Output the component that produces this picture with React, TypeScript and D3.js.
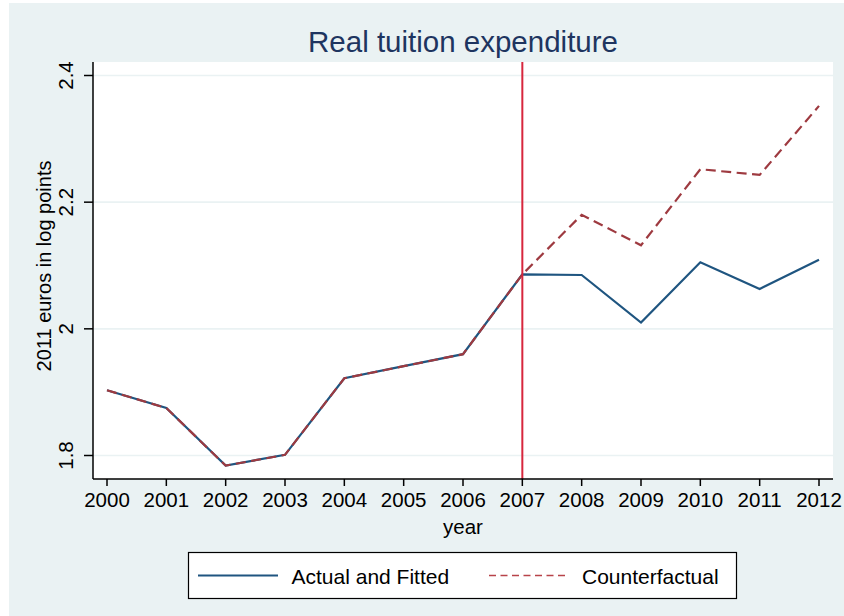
import React from "react"
import * as d3 from "d3"

// chart data
const years = [2000, 2001, 2002, 2003, 2004, 2005, 2006, 2007, 2008, 2009, 2010, 2011, 2012]
const actualFitted = [1.903, 1.875, 1.784, 1.801, 1.922, 1.941, 1.960, 2.086, 2.085, 2.010, 2.105, 2.063, 2.109]
const counterfactual = [1.903, 1.875, 1.784, 1.801, 1.922, 1.941, 1.960, 2.086, 2.180, 2.132, 2.252, 2.243, 2.352]
const yTicks = [1.8, 2, 2.2, 2.4]
const treatYear = 2007

const title = "Real tuition expenditure"
const xLabel = "year"
const yLabel = "2011 euros in log points"
const legendLabels = ["Actual and Fitted", "Counterfactual"]

const W = 844
const H = 616
const plot = { left: 93, right: 833, top: 62, bottom: 479 }

const BG = "#eaf2f3"
const BLUE = "#1f5580"
const MAROON = "#9e3a40"
const RED = "#d7263d"
const FONT = "'Liberation Sans', Arial, Helvetica, sans-serif"

const App: React.FC = () => {
  const x = d3.scaleLinear().domain([2000, 2012]).range([107, 819])
  const y = d3.scaleLinear().domain([1.8, 2.4]).range([455.5, 75.5])

  const line = d3.line<number>()
    .x((_, i) => x(years[i]))
    .y(d => y(d))

  return (
    <svg width={W} height={H} style={{ position: "absolute", left: 0, top: 0 }} fontFamily={FONT}>
      <rect x={0} y={0} width={W} height={H} fill="#fff" />
      <rect x={9} y={3} width={W - 9} height={H - 3} fill={BG} />

      {/* plot area */}
      <rect x={plot.left} y={plot.top} width={plot.right - plot.left} height={plot.bottom - plot.top} fill="#fff" />

      {/* grid */}
      {yTicks.map(t => (
        <line key={"g" + t} x1={plot.left} x2={plot.right} y1={y(t)} y2={y(t)} stroke={BG} strokeWidth={1.6} />
      ))}

      {/* title */}
      <text x={(plot.left + plot.right) / 2} y={51.5} textAnchor="middle" fontSize={29.5} fill="#1e3560">{title}</text>

      {/* series */}
      <path d={line(actualFitted) ?? ""} fill="none" stroke={BLUE} strokeWidth={2.2} />
      <path d={line(counterfactual) ?? ""} fill="none" stroke={MAROON} strokeWidth={2.2} strokeDasharray="10,5.5" />

      {/* treatment line */}
      <line x1={x(treatYear)} x2={x(treatYear)} y1={plot.top} y2={plot.bottom} stroke={RED} strokeWidth={2} />

      {/* axes */}
      <line x1={plot.left} x2={plot.left} y1={plot.top} y2={plot.bottom} stroke="#000" strokeWidth={1.5} />
      <line x1={plot.left} x2={plot.right} y1={plot.bottom} y2={plot.bottom} stroke="#000" strokeWidth={1.5} />

      {yTicks.map(t => (
        <g key={"y" + t}>
          <line x1={plot.left - 9} x2={plot.left} y1={y(t)} y2={y(t)} stroke="#000" strokeWidth={1.5} />
          <text transform={`translate(73,${y(t)}) rotate(-90)`} textAnchor="middle" fontSize={20.5} fill="#000">
            {d3.format("~g")(t)}
          </text>
        </g>
      ))}

      {years.map(yr => (
        <g key={"x" + yr}>
          <line x1={x(yr)} x2={x(yr)} y1={plot.bottom} y2={plot.bottom + 7} stroke="#000" strokeWidth={1.5} />
          <text x={x(yr)} y={507} textAnchor="middle" fontSize={20.5} fill="#000">{yr}</text>
        </g>
      ))}

      <text x={(plot.left + plot.right) / 2} y={533.5} textAnchor="middle" fontSize={20.5} fill="#000">{xLabel}</text>
      <text transform={`translate(51,266) rotate(-90)`} textAnchor="middle" fontSize={20} fill="#000">{yLabel}</text>

      {/* legend */}
      <g>
        <rect x={188.5} y={552.5} width={548} height={46} fill="#fff" stroke="#000" strokeWidth={1.2} />
        <line x1={198} x2={278} y1={575.5} y2={575.5} stroke={BLUE} strokeWidth={1.8} />
        <text x={291.5} y={584} fontSize={21} fill="#000">{legendLabels[0]}</text>
        <line x1={489} x2={569} y1={575.5} y2={575.5} stroke="#b8434a" strokeWidth={1.6} strokeDasharray="7,4.5" />
        <text x={582} y={584} fontSize={21} fill="#000">{legendLabels[1]}</text>
      </g>
    </svg>
  )
}

export default App
